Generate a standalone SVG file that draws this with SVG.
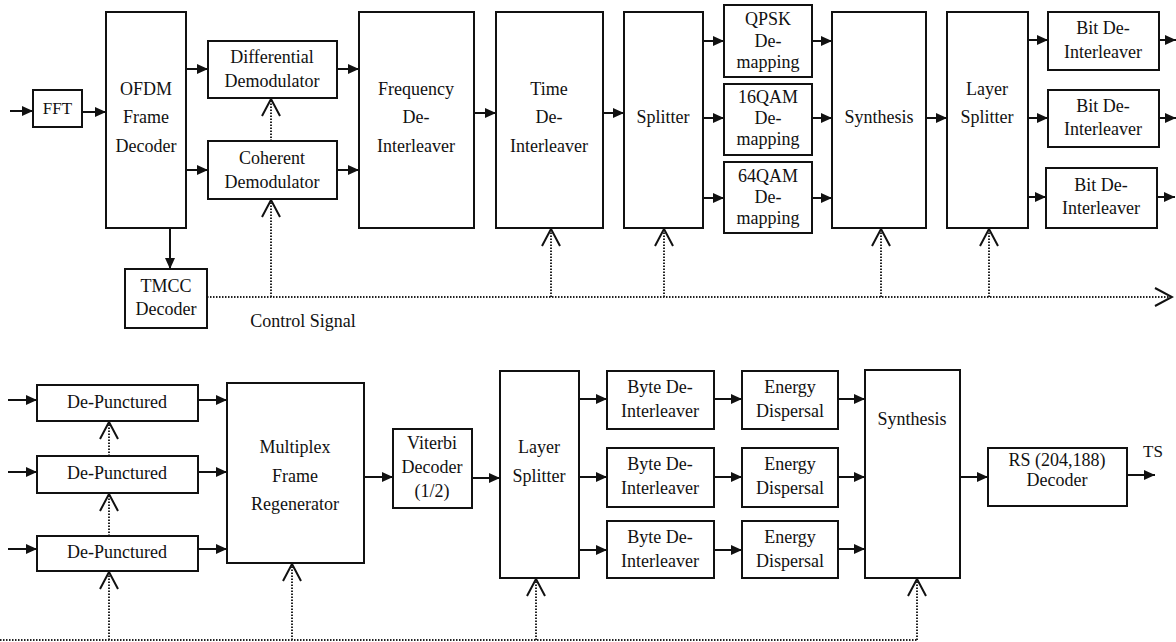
<svg xmlns="http://www.w3.org/2000/svg" width="1176" height="642" viewBox="0 0 1176 642">
<defs>
<style>
.box{fill:#fff;stroke:#111;stroke-width:2}
.t{font-family:'Liberation Serif','DejaVu Serif',serif;font-size:18px;fill:#111;text-anchor:middle}
.s{font-size:17px}
.w{stroke:#111;stroke-width:2;fill:none}
.c{stroke:#222;stroke-width:2;fill:none;stroke-dasharray:1.5 1.5}
</style>
<marker id="a" markerUnits="userSpaceOnUse" markerWidth="12" markerHeight="12" viewBox="0 0 12 12" refX="11" refY="6" orient="auto"><path d="M0,1 L11,6 L0,11 z" fill="#111"/></marker>
<marker id="o" markerUnits="userSpaceOnUse" markerWidth="20" markerHeight="22" viewBox="0 0 20 22" refX="18" refY="11" orient="auto"><path d="M1,2 L18,11 L1,20" fill="none" stroke="#111" stroke-width="2"/></marker>
</defs>
<rect width="1176" height="642" fill="#fff"/>

<g id="connectors">
<line class="w" x1="10" y1="111" x2="33" y2="111" marker-end="url(#a)"/>
<line class="w" x1="82" y1="112" x2="106" y2="112" marker-end="url(#a)"/>
<line class="w" x1="186" y1="69" x2="208" y2="69" marker-end="url(#a)"/>
<line class="w" x1="186" y1="170" x2="208" y2="170" marker-end="url(#a)"/>
<line class="w" x1="170" y1="228" x2="170" y2="269" marker-end="url(#a)"/>
<line class="w" x1="337" y1="69" x2="359" y2="69" marker-end="url(#a)"/>
<line class="w" x1="337" y1="170" x2="359" y2="170" marker-end="url(#a)"/>
<line class="w" x1="474" y1="113" x2="496" y2="113" marker-end="url(#a)"/>
<line class="w" x1="603" y1="113" x2="624" y2="113" marker-end="url(#a)"/>
<line class="w" x1="703" y1="41" x2="724" y2="41" marker-end="url(#a)"/>
<line class="w" x1="703" y1="118" x2="724" y2="118" marker-end="url(#a)"/>
<line class="w" x1="703" y1="198" x2="724" y2="198" marker-end="url(#a)"/>
<line class="w" x1="812" y1="41" x2="832" y2="41" marker-end="url(#a)"/>
<line class="w" x1="812" y1="118" x2="832" y2="118" marker-end="url(#a)"/>
<line class="w" x1="812" y1="198" x2="832" y2="198" marker-end="url(#a)"/>
<line class="w" x1="926" y1="118" x2="947" y2="118" marker-end="url(#a)"/>
<line class="w" x1="1028" y1="40" x2="1048" y2="40" marker-end="url(#a)"/>
<line class="w" x1="1028" y1="118" x2="1048" y2="118" marker-end="url(#a)"/>
<line class="w" x1="1028" y1="197" x2="1046" y2="197" marker-end="url(#a)"/>
<line class="w" x1="1159" y1="40" x2="1176" y2="40" marker-end="url(#a)"/>
<line class="w" x1="1159" y1="118" x2="1176" y2="118" marker-end="url(#a)"/>
<line class="w" x1="1157" y1="197" x2="1175" y2="197" marker-end="url(#a)"/>
<line class="c" x1="207" y1="297" x2="1172" y2="297" marker-end="url(#o)"/>
<line class="c" x1="271" y1="141" x2="271" y2="99" marker-end="url(#o)"/>
<line class="c" x1="271" y1="297" x2="271" y2="200" marker-end="url(#o)"/>
<line class="c" x1="551" y1="297" x2="551" y2="229" marker-end="url(#o)"/>
<line class="c" x1="664" y1="297" x2="664" y2="229" marker-end="url(#o)"/>
<line class="c" x1="881" y1="297" x2="881" y2="229" marker-end="url(#o)"/>
<line class="c" x1="989" y1="297" x2="989" y2="229" marker-end="url(#o)"/>
<line class="w" x1="8" y1="400" x2="37" y2="400" marker-end="url(#a)"/>
<line class="w" x1="8" y1="472" x2="37" y2="472" marker-end="url(#a)"/>
<line class="w" x1="8" y1="549" x2="37" y2="549" marker-end="url(#a)"/>
<line class="w" x1="198" y1="400" x2="227" y2="400" marker-end="url(#a)"/>
<line class="w" x1="198" y1="472" x2="227" y2="472" marker-end="url(#a)"/>
<line class="w" x1="198" y1="549" x2="227" y2="549" marker-end="url(#a)"/>
<line class="w" x1="364" y1="477" x2="393" y2="477" marker-end="url(#a)"/>
<line class="w" x1="472" y1="478" x2="500" y2="478" marker-end="url(#a)"/>
<line class="w" x1="579" y1="399" x2="607" y2="399" marker-end="url(#a)"/>
<line class="w" x1="579" y1="477" x2="607" y2="477" marker-end="url(#a)"/>
<line class="w" x1="579" y1="550" x2="607" y2="550" marker-end="url(#a)"/>
<line class="w" x1="714" y1="399" x2="742" y2="399" marker-end="url(#a)"/>
<line class="w" x1="714" y1="477" x2="742" y2="477" marker-end="url(#a)"/>
<line class="w" x1="714" y1="550" x2="742" y2="550" marker-end="url(#a)"/>
<line class="w" x1="838" y1="399" x2="865" y2="399" marker-end="url(#a)"/>
<line class="w" x1="838" y1="477" x2="865" y2="477" marker-end="url(#a)"/>
<line class="w" x1="838" y1="549" x2="865" y2="549" marker-end="url(#a)"/>
<line class="w" x1="960" y1="477" x2="988" y2="477" marker-end="url(#a)"/>
<line class="w" x1="1127" y1="475" x2="1155" y2="475" marker-end="url(#a)"/>
<line class="c" x1="0" y1="640" x2="918" y2="640"/>
<line class="c" x1="109" y1="456" x2="109" y2="422" marker-end="url(#o)"/>
<line class="c" x1="109" y1="536" x2="109" y2="494" marker-end="url(#o)"/>
<line class="c" x1="109" y1="640" x2="109" y2="572" marker-end="url(#o)"/>
<line class="c" x1="292" y1="640" x2="292" y2="564" marker-end="url(#o)"/>
<line class="c" x1="536" y1="640" x2="536" y2="579" marker-end="url(#o)"/>
<line class="c" x1="917" y1="640" x2="917" y2="579" marker-end="url(#o)"/>
</g>

<g font-family="Liberation Serif, DejaVu Serif, serif">
<g id="fft"><rect class="box" x="33" y="90" width="49" height="37"/><text class="t s" x="57.5" y="114">FFT</text></g>
<g id="ofdm"><rect class="box" x="106" y="12" width="80" height="216"/><text class="t" x="146" y="95">OFDM</text><text class="t" x="146" y="123">Frame</text><text class="t" x="146" y="152">Decoder</text></g>
<g id="diff"><rect class="box" x="208" y="41" width="129" height="57"/><text class="t" x="272" y="63">Differential</text><text class="t" x="272" y="87">Demodulator</text></g>
<g id="coh"><rect class="box" x="208" y="141" width="129" height="58"/><text class="t" x="272" y="164">Coherent</text><text class="t" x="272" y="188">Demodulator</text></g>
<g id="tmcc"><rect class="box" x="125" y="269" width="82" height="59"/><text class="t" x="166" y="292">TMCC</text><text class="t" x="166" y="315">Decoder</text></g>
<text class="t" x="303" y="327">Control Signal</text>
<g id="freq"><rect class="box" x="359" y="12" width="115" height="216"/><text class="t" x="416" y="95">Frequency</text><text class="t" x="416" y="123">De-</text><text class="t" x="416" y="152">Interleaver</text></g>
<g id="time"><rect class="box" x="496" y="12" width="107" height="216"/><text class="t" x="549" y="95">Time</text><text class="t" x="549" y="123">De-</text><text class="t" x="549" y="152">Interleaver</text></g>
<g id="splitter"><rect class="box" x="624" y="12" width="79" height="216"/><text class="t" x="663" y="123">Splitter</text></g>
<g id="qpsk"><rect class="box" x="724" y="5" width="88" height="72"/><text class="t" x="768" y="25">QPSK</text><text class="t" x="768" y="47">De-</text><text class="t" x="768" y="68">mapping</text></g>
<g id="qam16"><rect class="box" x="724" y="84" width="88" height="71"/><text class="t" x="768" y="103">16QAM</text><text class="t" x="768" y="124">De-</text><text class="t" x="768" y="145">mapping</text></g>
<g id="qam64"><rect class="box" x="724" y="162" width="88" height="71"/><text class="t" x="768" y="182">64QAM</text><text class="t" x="768" y="203">De-</text><text class="t" x="768" y="224">mapping</text></g>
<g id="synth1"><rect class="box" x="832" y="12" width="94" height="216"/><text class="t" x="879" y="123">Synthesis</text></g>
<g id="layer1"><rect class="box" x="947" y="12" width="81" height="216"/><text class="t" x="987" y="95">Layer</text><text class="t" x="987" y="123">Splitter</text></g>
<g id="bit1"><rect class="box" x="1048" y="12" width="111" height="58"/><text class="t" x="1103" y="34">Bit De-</text><text class="t" x="1103" y="58">Interleaver</text></g>
<g id="bit2"><rect class="box" x="1048" y="90" width="111" height="57"/><text class="t" x="1103" y="112">Bit De-</text><text class="t" x="1103" y="135">Interleaver</text></g>
<g id="bit3"><rect class="box" x="1046" y="168" width="111" height="60"/><text class="t" x="1101" y="191">Bit De-</text><text class="t" x="1101" y="214">Interleaver</text></g>
<g id="dp1"><rect class="box" x="37" y="385" width="161" height="36"/><text class="t" x="117" y="408">De-Punctured</text></g>
<g id="dp2"><rect class="box" x="37" y="456" width="161" height="37"/><text class="t" x="117" y="479">De-Punctured</text></g>
<g id="dp3"><rect class="box" x="37" y="536" width="161" height="35"/><text class="t" x="117" y="558">De-Punctured</text></g>
<g id="mfr"><rect class="box" x="227" y="383" width="137" height="180"/><text class="t" x="295" y="453">Multiplex</text><text class="t" x="295" y="482">Frame</text><text class="t" x="295" y="510">Regenerator</text></g>
<g id="viterbi"><rect class="box" x="393" y="429" width="79" height="79"/><text class="t" x="432" y="449">Viterbi</text><text class="t" x="432" y="473">Decoder</text><text class="t" x="432" y="497">(1/2)</text></g>
<g id="layer2"><rect class="box" x="500" y="371" width="79" height="207"/><text class="t" x="539" y="453">Layer</text><text class="t" x="539" y="482">Splitter</text></g>
<g id="byte1"><rect class="box" x="607" y="371" width="107" height="58"/><text class="t" x="660" y="393">Byte De-</text><text class="t" x="660" y="417">Interleaver</text></g>
<g id="byte2"><rect class="box" x="607" y="448" width="107" height="59"/><text class="t" x="660" y="470">Byte De-</text><text class="t" x="660" y="494">Interleaver</text></g>
<g id="byte3"><rect class="box" x="607" y="521" width="107" height="57"/><text class="t" x="660" y="543">Byte De-</text><text class="t" x="660" y="567">Interleaver</text></g>
<g id="energy1"><rect class="box" x="742" y="371" width="96" height="58"/><text class="t" x="790" y="393">Energy</text><text class="t" x="790" y="417">Dispersal</text></g>
<g id="energy2"><rect class="box" x="742" y="448" width="96" height="59"/><text class="t" x="790" y="470">Energy</text><text class="t" x="790" y="494">Dispersal</text></g>
<g id="energy3"><rect class="box" x="742" y="521" width="96" height="57"/><text class="t" x="790" y="543">Energy</text><text class="t" x="790" y="567">Dispersal</text></g>
<g id="synth2"><rect class="box" x="865" y="370" width="95" height="208"/><text class="t" x="912" y="425">Synthesis</text></g>
<g id="rs"><rect class="box" x="988" y="448" width="139" height="58"/><text class="t" x="1057" y="466">RS (204,188)</text><text class="t" x="1057" y="486">Decoder</text></g>
<text class="t s" x="1153" y="457">TS</text>
</g>
</svg>
